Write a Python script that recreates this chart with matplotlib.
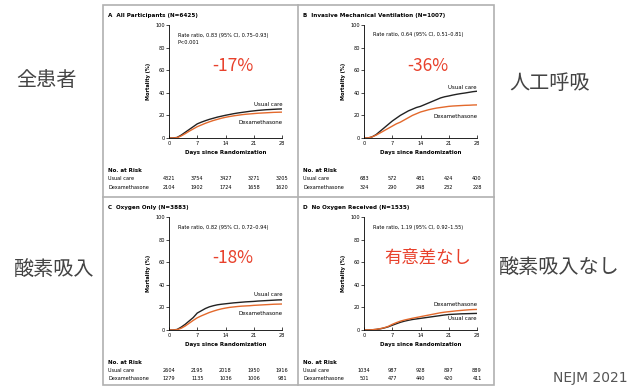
import matplotlib
matplotlib.use("Agg")
from matplotlib import pyplot as plt
from matplotlib import transforms
from matplotlib.patches import Rectangle

W, H = 633, 390

days = list(range(29))
tick_days = [0, 7, 14, 21, 28]

titles = ["All Participants (N=6425)",
          "Invasive Mechanical Ventilation (N=1007)",
          "Oxygen Only (N=3883)",
          "No Oxygen Received (N=1535)"]
letters = ["A", "B", "C", "D"]
rate_texts = ["Rate ratio, 0.83 (95% CI, 0.75\u20130.93)\nP<0.001",
              "Rate ratio, 0.64 (95% CI, 0.51\u20130.81)",
              "Rate ratio, 0.82 (95% CI, 0.72\u20130.94)",
              "Rate ratio, 1.19 (95% CI, 0.92\u20131.55)"]
big_labels = ["-17%", "-36%", "-18%", "有意差なし"]
side_labels = ["全患者", "人工呼吸", "酸素吸入", "酸素吸入なし"]

usual = [
    [0, 0, 0.5, 2.5, 5, 7.5, 10, 12.5, 14, 15.3, 16.5, 17.5, 18.5, 19.3, 20.1, 20.8, 21.5,
     22.1, 22.6, 23.1, 23.6, 24, 24.4, 24.7, 25, 25.2, 25.4, 25.6, 25.7],
    [0, 0, 1, 3, 6, 9, 12, 15, 17.5, 20, 22, 24, 25.5, 27, 28, 29.5, 31, 32.5, 34, 35.5,
     36.5, 37.2, 38, 38.7, 39.3, 39.8, 40.4, 41, 41.4],
    [0, 0, 0.5, 2.5, 5, 8, 11, 15, 17, 19, 20.5, 21.5, 22.3, 22.8, 23.2, 23.6, 24, 24.3,
     24.6, 24.9, 25.1, 25.3, 25.6, 25.8, 26, 26.2, 26.4, 26.6, 26.7],
    [0, 0, 0.2, 0.5, 1, 1.8, 2.8, 4.2, 5.5, 6.8, 7.8, 8.6, 9.3, 9.8, 10.3, 10.8, 11.3, 11.8,
     12.3, 12.8, 13.3, 13.7, 13.9, 14.1, 14.3, 14.4, 14.5, 14.6, 14.7],
]
dexa = [
    [0, 0, 0.3, 1.8, 3.8, 6, 8, 10, 11.5, 13, 14.3, 15.5, 16.5, 17.5, 18.3, 19, 19.6, 20.1,
     20.6, 21, 21.3, 21.6, 21.9, 22.1, 22.3, 22.5, 22.7, 22.8, 22.9],
    [0, 0, 1, 2.5, 4.5, 6.5, 8.5, 10.5, 12.5, 14, 16, 18, 20, 21.5, 23, 24, 25, 25.8, 26.5,
     27, 27.5, 28, 28.3, 28.5, 28.7, 28.9, 29, 29.2, 29.3],
    [0, 0, 0.3, 1.5, 3.5, 6, 8.5, 10.8, 12.5, 14, 15.5, 16.7, 17.8, 18.7, 19.4, 20, 20.4,
     20.8, 21.1, 21.3, 21.5, 21.8, 22, 22.2, 22.4, 22.6, 22.8, 22.9, 23],
    [0, 0, 0.2, 0.6, 1.2, 2, 3.2, 5, 6.5, 7.8, 8.8, 9.6, 10.4, 11.1, 11.8, 12.5, 13.2, 13.9,
     14.6, 15.3, 15.8, 16.2, 16.6, 17, 17.3, 17.6, 17.9, 18.1, 18.2],
]
risk_usual = [[4321, 3754, 3427, 3271, 3205],
              [683, 572, 481, 424, 400],
              [2604, 2195, 2018, 1950, 1916],
              [1034, 987, 928, 897, 889]]
risk_dexa = [[2104, 1902, 1724, 1658, 1620],
             [324, 290, 248, 232, 228],
             [1279, 1135, 1036, 1006, 981],
             [501, 477, 440, 420, 411]]

# curve label heights (value units) for each panel: (usual care, dexamethasone)
curve_label_y = [(30, 14), (45, 19), (31, 15), (10, 23)]

BLACK = "#222222"
ORANGE = "#e3692c"
RED = "#e8412c"
GRAY_TXT = "#444444"
SMALL = 3.6
CJK = ["Noto Sans CJK JP", "DejaVu Sans"]


def fx(x):
    return x / W


def fy(y):
    return 1 - y / H


fig = plt.figure(figsize=(W / 100, H / 100), dpi=100)

# panel frame
fig.add_artist(Rectangle((fx(103), fy(385)), fx(494) - fx(103), fy(5) - fy(385),
                         transform=fig.transFigure, fill=False, ec="#b0b0b0", lw=1.2))
fig.add_artist(plt.Line2D([fx(298), fx(298)], [fy(5), fy(385)], color="#b0b0b0", lw=1.2))
fig.add_artist(plt.Line2D([fx(103), fx(494)], [fy(197), fy(197)], color="#b0b0b0", lw=1.2))

# panel origins (top-left of each panel in pixels)
origins = [(103, 5), (298, 5), (103, 197), (298, 197)]

for i in range(4):
    ox, oy = origins[i]
    x0 = ox + 66
    x1 = x0 + 113
    ytop = oy + 20
    ybot = oy + 133
    ax = fig.add_axes([fx(x0), fy(ybot), (x1 - x0) / W, (ybot - ytop) / H])
    ax.plot(days, usual[i], color=BLACK, lw=1.0)
    ax.plot(days, dexa[i], color=ORANGE, lw=1.0)
    ax.set_xlim(0, 28)
    ax.set_ylim(0, 100)
    ax.set_xticks(tick_days)
    ax.set_yticks([0, 20, 40, 60, 80, 100])
    for s in ["top", "right"]:
        ax.spines[s].set_visible(False)
    for s in ["left", "bottom"]:
        ax.spines[s].set_linewidth(0.6)
    ax.tick_params(axis="y", labelsize=SMALL, length=2, width=0.5, pad=1)
    ax.tick_params(axis="x", labelsize=SMALL, length=2, width=0.5, pad=2, direction="in")
    ax.set_facecolor("none")
    ax.set_xlabel("Days since Randomization", fontsize=SMALL + 0.4, fontweight="bold",
                  labelpad=3)
    ax.set_ylabel("Mortality (%)", fontsize=SMALL, fontweight="bold", labelpad=3)

    ax.text(2.2, 93 if i != 1 else 94, rate_texts[i], fontsize=SMALL, va="top", ha="left",
            linespacing=1.5)
    ax.text(28, curve_label_y[i][0], "Usual care", fontsize=SMALL + 0.3, ha="right",
            va="center")
    ax.text(28, curve_label_y[i][1], "Dexamethasone", fontsize=SMALL + 0.3, ha="right",
            va="center")
    ax.text(15.8, 64, big_labels[i], fontsize=12.5, color=RED, ha="center", va="center",
            family=CJK)

    # panel title
    fig.text(fx(ox + 5), fy(oy + 11), letters[i] + "  " + titles[i], fontsize=SMALL + 0.5,
             fontweight="bold", va="center", ha="left")

    # risk table
    fig.text(fx(ox + 5), fy(oy + 166), "No. at Risk", fontsize=SMALL + 0.4,
             fontweight="bold", va="center")
    fig.text(fx(ox + 5), fy(oy + 174), "Usual care", fontsize=SMALL, va="center")
    fig.text(fx(ox + 5), fy(oy + 182), "Dexamethasone", fontsize=SMALL, va="center")
    tr = transforms.blended_transform_factory(ax.transData, fig.transFigure)
    for d, u, dx in zip(tick_days, risk_usual[i], risk_dexa[i]):
        ax.text(d, fy(oy + 174), str(u), transform=tr, fontsize=SMALL, ha="center",
                va="center", clip_on=False)
        ax.text(d, fy(oy + 182), str(dx), transform=tr, fontsize=SMALL, ha="center",
                va="center", clip_on=False)

# Japanese side labels
side_pos = [(46, 80), (550, 83), (54, 270), (559, 268)]
for lab, (x, y) in zip(side_labels, side_pos):
    fig.text(fx(x), fy(y), lab, fontsize=14.5, color=GRAY_TXT, ha="center", va="center",
             family=CJK)

fig.text(fx(628), fy(378), "NEJM 2021", fontsize=10, color="#555555", ha="right",
         va="center")

fig.savefig("out.png", dpi=100, facecolor="white")
